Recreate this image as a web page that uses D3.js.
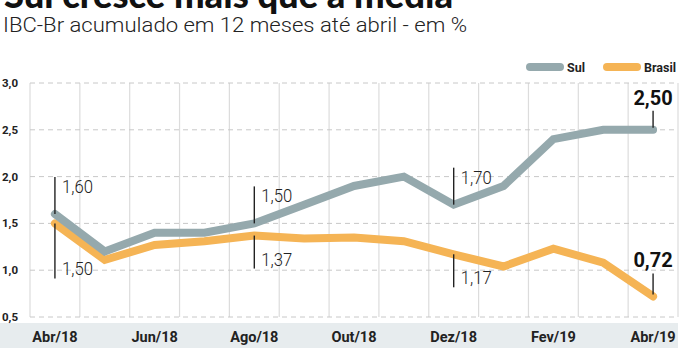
<html>
<script src="https://d3js.org/d3.v7.min.js"></script>
<style>
    body { margin: 0; background: #fff; }
    svg { display: block; font-family: Roboto, "Noto Sans", sans-serif; }
</style>
<svg width=682 height=350></svg>
<script>

    // data
    let months = ['Abr/18','Mai/18','Jun/18','Jul/18','Ago/18','Set/18','Out/18',
                  'Nov/18','Dez/18','Jan/19','Fev/19','Mar/19','Abr/19'];
    let tickLabels = ['Abr/18','Jun/18','Ago/18','Out/18','Dez/18','Fev/19','Abr/19'];
    let yTicks = [0.5, 1.0, 1.5, 2.0, 2.5, 3.0];
    let sul    = [1.60, 1.20, 1.40, 1.40, 1.50, 1.70, 1.90, 2.00, 1.70, 1.90, 2.40, 2.50, 2.50];
    let brasil = [1.50, 1.11, 1.27, 1.31, 1.37, 1.34, 1.35, 1.31, 1.17, 1.04, 1.23, 1.08, 0.72];
    let seriesNames = ['Sul', 'Brasil'];
    let colors = ['#95a9ad', '#f5b455'];

    // callouts: month index, series, direction
    let notes = [
        { i: 0, s: 0, up: true },
        { i: 0, s: 1, up: false },
        { i: 4, s: 0, up: true },
        { i: 4, s: 1, up: false },
        { i: 8, s: 0, up: true },
        { i: 8, s: 1, up: false }
    ];
    let endNotes = [
        { i: 12, s: 0 },
        { i: 12, s: 1 }
    ];

    let values = [sul, brasil];
    let fmt = v => d3.format('.2f')(v).replace('.', ',');

    let svg = d3.select('svg'),
        margin = { top: 83, right: 4, bottom: 33, left: 30 },
        width = +svg.attr('width') - margin.left - margin.right,
        height = +svg.attr('height') - margin.top - margin.bottom;

    // title (clipped at the top as in the print)
    svg.append('text')
        .attr('x', 4).attr('y', 8)
        .attr('font-family', 'Lato, Roboto, sans-serif')
        .attr('font-size', 36).attr('font-weight', 900)
        .attr('textLength', 449).attr('lengthAdjust', 'spacingAndGlyphs')
        .attr('fill', '#111')
        .text('Sul cresce mais que a média');

    svg.append('text')
        .attr('x', 3).attr('y', 32)
        .attr('font-size', 21).attr('font-weight', 300)
        .attr('textLength', 464).attr('lengthAdjust', 'spacingAndGlyphs')
        .attr('fill', '#222')
        .text('IBC-Br acumulado em 12 meses até abril - em %');

    // x label band
    svg.append('rect')
        .attr('x', 0).attr('y', margin.top + height + 6)
        .attr('width', margin.left + width).attr('height', 25)
        .attr('fill', '#e7ecee');

    let g = svg.append('g')
        .attr('transform', 'translate(' + margin.left + ',' + margin.top + ')');

    let x = d3.scalePoint()
        .domain(months)
        .range([0, width])
        .padding(0.5);

    let y = d3.scaleLinear()
        .domain([0.5, 3.0])
        .range([height, 0]);

    let step = x.step();

    // vertical grid, between the months
    g.selectAll('.vgrid')
        .data(months.concat(['end']))
      .enter()
        .append('line')
        .attr('x1', (d, i) => i * step)
        .attr('x2', (d, i) => i * step)
        .attr('y1', 0).attr('y2', height)
        .attr('stroke', '#dcdcdc').attr('stroke-width', 1.2);

    // horizontal dashed grid
    g.selectAll('.hgrid')
        .data(yTicks)
      .enter()
        .append('line')
        .attr('x1', 0).attr('x2', width)
        .attr('y1', d => y(d)).attr('y2', d => y(d))
        .attr('stroke', '#c8c8c8').attr('stroke-width', 1)
        .attr('stroke-dasharray', '5,4');

    // y labels
    svg.selectAll('.ylab')
        .data(yTicks)
      .enter()
        .append('text')
        .attr('x', 2)
        .attr('y', d => margin.top + y(d))
        .attr('dy', '0.35em')
        .attr('font-size', 11.5).attr('font-weight', 700)
        .attr('fill', '#222')
        .text(d => d3.format('.1f')(d).replace('.', ','));

    // x labels
    g.selectAll('.xlab')
        .data(tickLabels)
      .enter()
        .append('text')
        .attr('x', d => x(d))
        .attr('y', height + 25)
        .attr('text-anchor', 'middle')
        .attr('font-size', 14.5).attr('font-weight', 700)
        .attr('fill', '#222')
        .text(d => d);

    // lines
    let line = d3.line()
        .x((d, i) => x(months[i]))
        .y(d => y(d));

    [1, 0].forEach(s => {
        g.append('path')
            .datum(values[s])
            .attr('d', line)
            .attr('fill', 'none')
            .attr('stroke', colors[s])
            .attr('stroke-width', 8)
            .attr('stroke-linejoin', 'miter')
            .attr('stroke-linecap', 'round');
    });

    // callouts
    notes.forEach(n => {
        let px = x(months[n.i]), py = y(values[n.s][n.i]);
        let len = n.i === 0 && !n.up ? 55 : (n.up ? 37 : 33);
        let y2 = n.up ? py - len : py + len;
        g.append('line')
            .attr('x1', px).attr('x2', px)
            .attr('y1', py).attr('y2', y2)
            .attr('stroke', '#222').attr('stroke-width', 1.4);
        g.append('text')
            .attr('x', px + 7)
            .attr('y', n.up ? y2 + 16 : y2 - 3)
            .attr('font-size', 18).attr('font-weight', 300)
            .attr('fill', '#222')
            .attr('textLength', 31).attr('lengthAdjust', 'spacingAndGlyphs')
            .text(fmt(values[n.s][n.i]));
    });

    endNotes.forEach(n => {
        let px = x(months[n.i]), py = y(values[n.s][n.i]);
        let top = n.s === 0 ? py - 19 : py - 23;
        g.append('line')
            .attr('x1', px).attr('x2', px)
            .attr('y1', py - 2).attr('y2', top)
            .attr('stroke', '#222').attr('stroke-width', 1.4);
        g.append('text')
            .attr('x', px)
            .attr('y', top - 6)
            .attr('text-anchor', 'middle')
            .attr('font-size', 20).attr('font-weight', 700)
            .attr('fill', '#111')
            .text(fmt(values[n.s][n.i]));
    });

    // legend
    let legendX = [530, 607];
    seriesNames.forEach((name, s) => {
        svg.append('line')
            .attr('x1', legendX[s]).attr('x2', legendX[s] + 30)
            .attr('y1', 67).attr('y2', 67)
            .attr('stroke', colors[s]).attr('stroke-width', 8)
            .attr('stroke-linecap', 'round');
        svg.append('text')
            .attr('x', legendX[s] + 37).attr('y', 71.5)
            .attr('font-size', 12.5).attr('font-weight', 700)
            .attr('fill', '#222')
            .text(name);
    });

</script>
</html>
